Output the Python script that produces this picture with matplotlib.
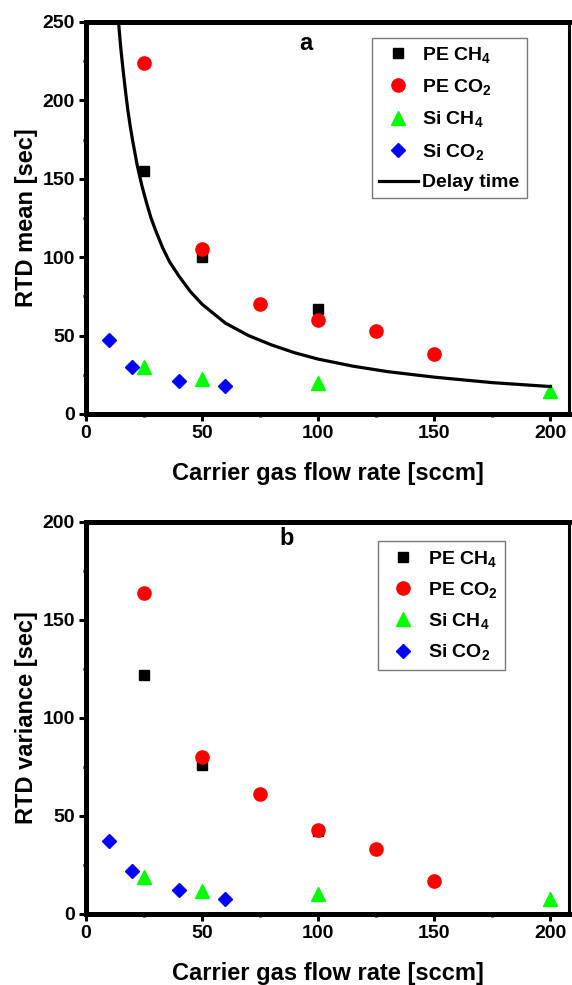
import numpy as np
import matplotlib
matplotlib.use('Agg')
import matplotlib.pyplot as plt
from matplotlib.ticker import MultipleLocator

plt.rcParams['font.family'] = ['Liberation Sans', 'DejaVu Sans']
plt.rcParams['font.weight'] = 'bold'
plt.rcParams['mathtext.fontset'] = 'custom'
plt.rcParams['mathtext.rm'] = 'Liberation Sans:bold'
plt.rcParams['mathtext.bf'] = 'Liberation Sans:bold'
plt.rcParams['mathtext.default'] = 'rm'

#---------------------Data: RTD mean (panel a)---------------------------------
pe_ch4_x = [25, 50, 100]
pe_ch4_mean = [155, 100, 67]
pe_co2_x = [25, 50, 75, 100, 125, 150]
pe_co2_mean = [224, 105, 70, 60, 53, 38.5]
si_ch4_x = [25, 50, 100, 200]
si_ch4_mean = [30, 22.5, 20, 14.5]
si_co2_x = [10, 20, 40, 60]
si_co2_mean = [47.5, 30, 21, 18]

# delay time curve
delay_x = [13.5, 14, 15, 16, 17, 18, 19, 20, 22, 24, 26, 28, 30, 33, 36, 40,
           45, 50, 55, 60, 70, 80, 90, 100, 115, 130, 150, 175, 200]
delay_y = [259, 250, 233, 219, 206, 194, 184, 175, 159, 146, 135, 125, 117,
           106, 97, 88, 78, 70, 64, 58, 50, 44, 39, 35, 30.5, 27, 23.5, 20, 17.5]

#---------------------Data: RTD variance (panel b)-----------------------------
pe_ch4_var = [122, 76, 42.5]
pe_co2_var = [164, 80, 61, 43, 33, 17]
si_ch4_var = [19, 11.5, 10, 7.5]
si_co2_var = [37, 22, 12, 7.5]

labels = ['PE CH$_4$', 'PE CO$_2$', 'Si CH$_4$', 'Si CO$_2$']

W, H = 572, 985
fig = plt.figure(figsize=(W/100, H/100), dpi=100, facecolor='w')

def px_axes(l, r, t, b):
    return fig.add_axes([l/W, 1-b/H, (r-l)/W, (b-t)/H])

def style(ax, ymax, ylabel):
    ax.set_xlim(0, 208)
    ax.set_ylim(0, ymax)
    ax.xaxis.set_major_locator(MultipleLocator(50))
    ax.xaxis.set_minor_locator(MultipleLocator(25))
    ax.yaxis.set_major_locator(MultipleLocator(50))
    ax.yaxis.set_minor_locator(MultipleLocator(25))
    for s in ['left', 'bottom', 'top']:
        ax.spines[s].set_linewidth(3.6)
    ax.spines['right'].set_linewidth(2.2)
    ax.tick_params(which='major', direction='out', length=5, width=2.2,
                   labelsize=14, pad=3, top=False, right=False)
    ax.tick_params(which='minor', direction='out', length=2.5, width=2.2,
                   top=False, right=False)
    ax.set_xlabel('Carrier gas flow rate [sccm]', fontsize=17, fontweight='bold', labelpad=14)
    ax.set_ylabel(ylabel, fontsize=17, fontweight='bold', labelpad=3)

mk = dict(linestyle='none')

#-------------------Panel a-------------------------------
ax1 = px_axes(86, 569, 22, 414)
ax1.plot(pe_ch4_x, pe_ch4_mean, marker='s', color='k', ms=7.5, label=labels[0], **mk)
ax1.plot(pe_co2_x, pe_co2_mean, marker='o', color='#ff0000', ms=9.5, label=labels[1], **mk)
ax1.plot(si_ch4_x, si_ch4_mean, marker='^', color='#00ff00', ms=10, label=labels[2], **mk)
ax1.plot(si_co2_x, si_co2_mean, marker='D', color='#0000ff', ms=7.5, label=labels[3], **mk)
ax1.plot(delay_x, delay_y, '-', color='k', lw=2.3, label='Delay time', clip_on=True)
style(ax1, 250, 'RTD mean [sec]')
ax1.text(0.455, 0.944, 'a', transform=ax1.transAxes, fontsize=17, fontweight='bold',
         ha='center', va='center')
leg = ax1.legend(loc='upper left', bbox_to_anchor=(0.592, 0.959), borderaxespad=0,
                 frameon=True, fancybox=False, edgecolor='#555555',
                 handlelength=2.0, handletextpad=0.25, labelspacing=0.63,
                 borderpad=0.35, prop={'weight': 'bold', 'size': 14})
leg.get_frame().set_linewidth(1.0)

#-------------------Panel b-------------------------------
ax2 = px_axes(86, 569, 522, 914)
ax2.plot(pe_ch4_x, pe_ch4_var, marker='s', color='k', ms=7.5, label=labels[0], **mk)
ax2.plot(pe_co2_x, pe_co2_var, marker='o', color='#ff0000', ms=9.5, label=labels[1], **mk)
ax2.plot(si_ch4_x, si_ch4_var, marker='^', color='#00ff00', ms=10, label=labels[2], **mk)
ax2.plot(si_co2_x, si_co2_var, marker='D', color='#0000ff', ms=7.5, label=labels[3], **mk)
style(ax2, 200, 'RTD variance [sec]')
ax2.text(0.416, 0.959, 'b', transform=ax2.transAxes, fontsize=17, fontweight='bold',
         ha='center', va='center')
leg2 = ax2.legend(loc='upper left', bbox_to_anchor=(0.605, 0.952), borderaxespad=0,
                  frameon=True, fancybox=False, edgecolor='#555555',
                  handlelength=1.7, handletextpad=0.45, labelspacing=0.58,
                  borderpad=0.4, prop={'weight': 'bold', 'size': 14})
leg2.get_frame().set_linewidth(1.0)

plt.savefig('out.png', dpi=100)
